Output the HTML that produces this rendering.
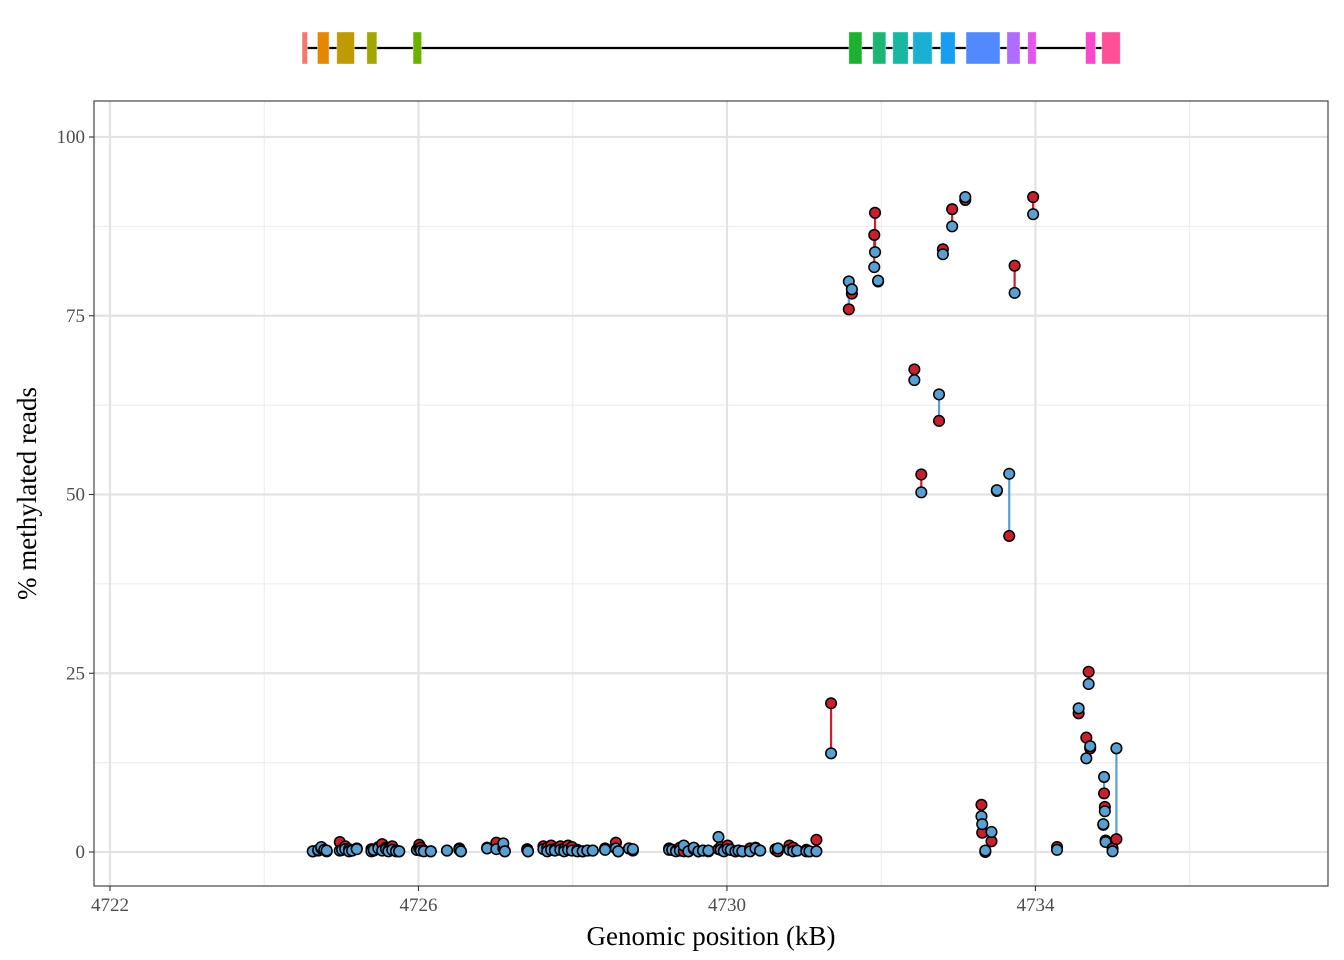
<!DOCTYPE html>
<html><head><meta charset="utf-8">
<style>
html,body{margin:0;padding:0;background:#fff;}
svg{display:block;font-family:"Liberation Serif",serif;}
</style></head>
<body>
<svg id="chart" width="1344" height="960" viewBox="0 0 1344 960" xmlns="http://www.w3.org/2000/svg"></svg>
<script>
// ---- data ----
const positions = [4724.63,4724.70,4724.74,4724.78,4724.81,4724.98,4725.01,4725.05,4725.10,4725.14,4725.20,4725.39,4725.42,4725.48,4725.53,4725.58,4725.61,4725.66,4725.71,4725.75,4725.98,4726.01,4726.03,4726.07,4726.16,4726.37,4726.53,4726.55,4726.89,4727.01,4727.10,4727.12,4727.41,4727.42,4727.62,4727.67,4727.72,4727.77,4727.84,4727.89,4727.94,4727.99,4728.06,4728.13,4728.19,4728.26,4728.42,4728.56,4728.59,4728.73,4728.78,4729.25,4729.29,4729.34,4729.39,4729.44,4729.50,4729.57,4729.63,4729.69,4729.76,4729.89,4729.92,4729.96,4730.01,4730.05,4730.11,4730.15,4730.20,4730.30,4730.37,4730.43,4730.63,4730.66,4730.81,4730.86,4730.91,4731.03,4731.07,4731.16,
4731.35,4731.58,4731.62,4731.91,4731.92,4731.96,4732.43,4732.52,4732.75,4732.80,4732.92,4733.09,4733.30,4733.31,4733.35,4733.43,4733.50,4733.66,4733.73,4733.97,4734.28,4734.56,4734.66,4734.69,4734.71,4734.88,4734.89,4734.90,4734.91,4735.00,4735.05];
const redValues = [0.1,0.2,0.5,0.3,0.1,1.4,0.3,0.8,0.4,0.2,0.5,0.4,0.2,0.7,1.1,0.6,0.3,0.8,0.2,0.1,0.3,1.0,0.6,0.2,0.1,0.2,0.5,0.1,0.6,1.3,0.5,0.1,0.4,0.1,0.8,0.6,0.9,0.4,0.8,0.5,0.9,0.7,0.3,0.1,0.2,0.2,0.5,1.3,0.1,0.5,0.2,0.5,0.3,0.2,0.6,0.1,0.1,0.4,0.1,0.2,0.1,0.4,0.7,0.2,0.9,0.3,0.1,0.2,0.1,0.5,0.6,0.2,0.4,0.1,0.9,0.6,0.2,0.3,0.1,1.7,
20.8,75.9,78.1,86.3,89.4,79.8,67.5,52.8,60.3,84.3,89.9,91.2,6.6,2.7,0.0,1.5,50.5,44.2,82.0,91.6,0.7,19.4,16.0,25.2,14.5,3.8,8.2,6.3,1.6,0.5,1.8];
const blueValues = [0.1,0.3,0.7,0.3,0.2,0.2,0.3,0.4,0.1,0.2,0.4,0.1,0.3,0.5,0.2,0.4,0.1,0.3,0.1,0.1,0.3,0.5,0.2,0.1,0.1,0.2,0.3,0.1,0.5,0.4,1.2,0.1,0.3,0.1,0.4,0.1,0.3,0.2,0.3,0.1,0.3,0.2,0.1,0.1,0.2,0.2,0.3,0.5,0.1,0.5,0.4,0.3,0.3,0.1,0.2,0.9,0.1,0.6,0.1,0.2,0.2,2.1,0.3,0.1,0.4,0.3,0.1,0.2,0.1,0.1,0.5,0.2,0.3,0.5,0.3,0.1,0.2,0.1,0.1,0.1,
13.8,79.8,78.7,81.8,83.9,79.9,66.0,50.3,64.0,83.6,87.5,91.6,5.0,3.9,0.2,2.8,50.6,52.9,78.2,89.2,0.3,20.1,13.1,23.5,14.8,3.9,10.5,5.7,1.4,0.1,14.5];
const xTicks = [4722,4726,4730,4734];
const xMinor = [4724,4728,4732,4736];
const yTicks = [0,25,50,75,100];
const yMinor = [12.5,37.5,62.5,87.5];
const exonStarts = [4724.49,4724.69,4724.94,4725.33,4725.93,4731.58,4731.89,4732.15,4732.41,4732.77,4733.10,4733.63,4733.90,4734.65,4734.86];
const exonEnds   = [4724.56,4724.84,4725.17,4725.46,4726.04,4731.75,4732.06,4732.35,4732.66,4732.96,4733.54,4733.80,4734.01,4734.78,4735.10];
const exonColors = ["#F8766D","#E58700","#C09B00","#A3A500","#6BB100","#1AB22E","#1DB574","#17B7A0","#1AB0D3","#169FF0","#5289FF","#B06BFF","#E255F0","#FA48CC","#FF4F96"];

// ---- scales ----
const PL=94, PR=1328, PT=101, PB=886;
const xs = v => 110 + (v-4722)*77.12;
const ys = v => 852 - v*7.15;
const NS="http://www.w3.org/2000/svg";
const svg=document.getElementById('chart');
function mk(tag, attrs, parent){const e=document.createElementNS(NS,tag);for(const k in attrs)e.setAttribute(k,attrs[k]);(parent||svg).appendChild(e);return e;}

// gene track
const gene=mk('g',{});


const gl=mk('line',{x1:xs(exonStarts[0]),x2:xs(exonEnds[exonEnds.length-1]),y1:48,y2:48,stroke:'#000','stroke-width':2.2},gene);


exonStarts.forEach((s,i)=>{
  const r=mk('rect',{x:xs(s),y:32,width:xs(exonEnds[i])-xs(s),height:32,fill:exonColors[i],stroke:'#fff','stroke-opacity':0.5,'stroke-width':0.8},gene);
  
  
});

// panel
const panel=mk('rect',{x:PL,y:PT,width:PR-PL,height:PB-PT,fill:'#fff'});


xMinor.forEach(v=>{const l=mk('line',{x1:xs(v),x2:xs(v),y1:PT,y2:PB,stroke:'#ebebeb','stroke-width':1});});
yMinor.forEach(v=>{const l=mk('line',{x1:PL,x2:PR,y1:ys(v),y2:ys(v),stroke:'#ebebeb','stroke-width':1});});
xTicks.forEach(v=>{const l=mk('line',{x1:xs(v),x2:xs(v),y1:PT,y2:PB,stroke:'#e3e3e3','stroke-width':2.2});});
yTicks.forEach(v=>{const l=mk('line',{x1:PL,x2:PR,y1:ys(v),y2:ys(v),stroke:'#e3e3e3','stroke-width':2.2});});

// segments
positions.forEach((p,i)=>{
  const r=redValues[i], b=blueValues[i];
  const l=mk('line',{x1:xs(p),x2:xs(p),y1:ys(r),y2:ys(b),stroke:r>=b?'#C8202F':'#5A9FCF','stroke-width':2.2});
  
  
});
positions.forEach((p,i)=>{
  const c=mk('circle',{cx:xs(p),cy:ys(redValues[i]),r:5.3,fill:'#C8202F',stroke:'#000','stroke-width':1.5});
  
  
  const d=mk('circle',{cx:xs(p),cy:ys(blueValues[i]),r:5.3,fill:'#5A9FCF',stroke:'#000','stroke-width':1.5});
  
  
});

const border=mk('rect',{x:PL,y:PT,width:PR-PL,height:PB-PT,fill:'none',stroke:'#333','stroke-width':1.1});



// ticks & labels
xTicks.forEach(v=>{
  const t=mk('line',{x1:xs(v),x2:xs(v),y1:PB,y2:PB+5,stroke:'#333','stroke-width':1.1});
  
  
  const tx=mk('text',{x:xs(v),y:PB+25,'text-anchor':'middle','font-size':19,fill:'#4d4d4d'});
  tx.textContent=v;
  
  
});
yTicks.forEach(v=>{
  const t=mk('line',{x1:PL-5,x2:PL,y1:ys(v),y2:ys(v),stroke:'#333','stroke-width':1.1});
  
  
  const tx=mk('text',{x:PL-9,y:ys(v)+6,'text-anchor':'end','font-size':19,fill:'#4d4d4d'});
  tx.textContent=v;
  
  
});
const xt=mk('text',{x:(PL+PR)/2,y:945,'text-anchor':'middle','font-size':27,fill:'#000'});
xt.textContent='Genomic position (kB)';


const yt=mk('text',{x:0,y:0,'text-anchor':'middle','font-size':27,fill:'#000',transform:'translate(36,'+((PT+PB)/2)+') rotate(-90)'});
yt.textContent='% methylated reads';


</script>
</body></html>
